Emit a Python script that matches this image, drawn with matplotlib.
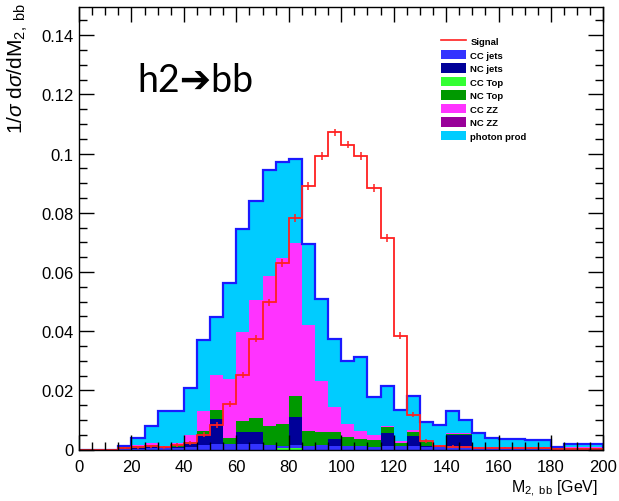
import numpy as np
import matplotlib
matplotlib.use("Agg")
import matplotlib.pyplot as plt
from matplotlib.patches import Patch
from matplotlib.lines import Line2D
from matplotlib.ticker import MultipleLocator

plt.rcParams['font.family'] = ['Liberation Sans', 'DejaVu Sans']
plt.rcParams['mathtext.fontset'] = 'custom'
plt.rcParams['mathtext.rm'] = 'Liberation Sans'
plt.rcParams['mathtext.it'] = 'Liberation Sans:italic'

# 5 GeV bins from 0 to 200
bin_edges = np.arange(0, 205, 5)

signal = [0, 0, 0, 0.0005, 0.0008, 0.0011, 0.0008, 0.0016, 0.0022, 0.0050,
          0.0083, 0.0154, 0.0251, 0.0375, 0.0497, 0.0631, 0.0782, 0.0890, 0.0991, 0.1071,
          0.1030, 0.0991, 0.0884, 0.0714, 0.0385, 0.0118, 0.0029, 0.0012, 0.0010, 0.0007,
          0.0005, 0.0005, 0.0004, 0.0004, 0.0004, 0.0004, 0.0003, 0.0003, 0.0003, 0.0003]
signal_err = [0, 0, 0, 0.0004, 0.0005, 0.0005, 0.0005, 0.0006, 0.0006, 0.0008,
              0.0009, 0.0010, 0.0011, 0.0012, 0.0012, 0.0013, 0.0013, 0.0013, 0.0013, 0.0013,
              0.0013, 0.0013, 0.0013, 0.0013, 0.0012, 0.0009, 0.0006, 0.0004, 0.0004, 0.0003,
              0.0003, 0.0003, 0.0003, 0.0003, 0.0003, 0.0003, 0.0002, 0.0002, 0.0002, 0.0002]

cc_top = [0, 0, 0, 0, 0, 0, 0, 0, 0, 0,
          0, 0, 0, 0, 0, 0.0004, 0.0004, 0, 0, 0,
          0, 0, 0, 0, 0, 0, 0, 0, 0, 0,
          0, 0, 0, 0, 0, 0, 0, 0, 0, 0]
cc_jets = [0, 0, 0, 0.0003, 0.0003, 0.0005, 0.0004, 0.0005, 0.0010, 0.0016,
           0.0019, 0.0019, 0.0019, 0.0017, 0.0016, 0.0008, 0.0010, 0.0011, 0.0016, 0.0011,
           0.0011, 0.0011, 0.0010, 0.0011, 0.0011, 0.0011, 0.0008, 0.0008, 0.0011, 0.0011,
           0.0004, 0.0004, 0.0004, 0.0004, 0.0003, 0.0003, 0.0003, 0.0003, 0.0003, 0.0003]
nc_jets = [0, 0, 0, 0.0003, 0.0001, 0.0007, 0.0003, 0.0005, 0.0009, 0.0036,
           0.0083, 0, 0.0039, 0.0041, 0, 0, 0.0097, 0, 0, 0.0025,
           0, 0, 0, 0.0045, 0, 0.0036, 0.0004, 0, 0.0038, 0.0038,
           0, 0, 0, 0, 0, 0, 0, 0, 0, 0]
nc_top = [0, 0, 0, 0.0002, 0.0007, 0.0004, 0.0002, 0.0004, 0.0008, 0.0011,
          0.0031, 0.0019, 0.0039, 0.0048, 0.0064, 0.0073, 0.0069, 0.0052, 0.0042, 0.0024,
          0.0032, 0.0026, 0.0023, 0.0021, 0.0011, 0.0013, 0.0013, 0.0005, 0.0003, 0.0003,
          0.0002, 0.0001, 0.0001, 0.0001, 0.0001, 0.0001, 0.0001, 0.0001, 0.0001, 0.0001]
cc_zz = [0, 0, 0, 0.0001, 0.0003, 0.0005, 0.0002, 0.0007, 0.0022, 0.0067,
         0.0119, 0.0201, 0.0301, 0.0399, 0.0505, 0.0561, 0.0518, 0.0356, 0.0175, 0.0083,
         0.0044, 0.0027, 0.0017, 0.0003, 0.0008, 0.0006, 0.0002, 0.0003, 0.0004, 0.0004,
         0.0004, 0.0003, 0.0003, 0.0003, 0.0003, 0.0003, 0.0002, 0.0004, 0.0004, 0.0004]
nc_zz = [0.0] * 40
photon = [0, 0, 0, 0.0002, 0.0025, 0.0057, 0.0118, 0.0108, 0.0159, 0.0239,
          0.0197, 0.0323, 0.0347, 0.0333, 0.0358, 0.0324, 0.0282, 0.0276, 0.0275, 0.0232,
          0.0213, 0.0248, 0.0127, 0.0134, 0.0102, 0.0116, 0.0066, 0.0068, 0.0074, 0.0045,
          0.0047, 0.0032, 0.0028, 0.0028, 0.0025, 0.0025, 0.0004, 0.0009, 0.0009, 0.0009]

stack_order = [
    ("CC Top", cc_top, "#33ff33"),
    ("CC jets", cc_jets, "#3333ff"),
    ("NC jets", nc_jets, "#000099"),
    ("NC Top", nc_top, "#009900"),
    ("CC ZZ", cc_zz, "#ff33ff"),
    ("NC ZZ", nc_zz, "#990099"),
    ("photon prod", photon, "#00ccff"),
]
legend_order = ["CC jets", "NC jets", "CC Top", "NC Top", "CC ZZ", "NC ZZ", "photon prod"]

fig = plt.figure(figsize=(6.19, 5.02), dpi=100)
ax = fig.add_axes([79/619, (502-450.5)/502, (603.5-79)/619, (450.5-8)/502])

bottom = np.zeros(len(signal))
colors = {}
for name, vals, col in stack_order:
    vals = np.asarray(vals, dtype=float)
    colors[name] = col
    ax.stairs(bottom + vals, bin_edges, baseline=bottom.copy(), fill=True,
              color=col, linewidth=0)
    bottom = bottom + vals

ax.stairs(bottom, bin_edges, baseline=0, fill=False, color="#1a1aff", linewidth=1.6)

ax.stairs(signal, bin_edges, baseline=0, fill=False, color="#ff2020", linewidth=1.3)
centers = 0.5 * (bin_edges[:-1] + bin_edges[1:])
ax.errorbar(centers, signal, yerr=signal_err, fmt='none', ecolor="#ff2020", elinewidth=1.1)

ax.set_xlim(0, 200)
ax.set_ylim(0, 0.1495)
ax.xaxis.set_major_locator(MultipleLocator(20))
ax.xaxis.set_minor_locator(MultipleLocator(5))
ax.yaxis.set_minor_locator(MultipleLocator(0.005))
ax.set_yticks([0, 0.02, 0.04, 0.06, 0.08, 0.1, 0.12, 0.14])
ax.set_yticklabels(["0", "0.02", "0.04", "0.06", "0.08", "0.1", "0.12", "0.14"])
ax.tick_params(which='both', direction='in', top=True, right=True, labelsize=12, colors='black')
ax.tick_params(which='major', length=11, width=1)
ax.tick_params(which='minor', length=5.5, width=1)
ax.tick_params(axis='x', pad=7)
ax.tick_params(axis='y', pad=4)
for s in ax.spines.values():
    s.set_linewidth(1.0)

fig.text(18/619, 1 - 3/502, r"1/$\sigma$ d$\sigma$/dM$_{\mathrm{2,\ bb}}$", rotation=90,
         ha='center', va='top', fontsize=15)
fig.text(598/619, 1 - 489/502, r"M$_{\mathrm{2,\ bb}}$ [GeV]", ha='right', va='center',
         fontsize=11.5)

fig.text(137/619, 1 - 92/502, "h2➔bb", ha='left', va='baseline', fontsize=27,
         family=['Lato', 'DejaVu Sans'])

handles = [Line2D([], [], color="#ff2020", lw=1.2)]
labels = ["Signal"]
for name in legend_order:
    handles.append(Patch(facecolor=colors[name], edgecolor='none'))
    labels.append(name)
ax.legend(handles, labels, loc='upper left', bbox_to_anchor=(441/619, 1 - 37/502),
          bbox_transform=fig.transFigure, frameon=False,
          prop={'weight': 'bold', 'size': 6.8},
          handlelength=2.65, handleheight=1.2, labelspacing=0.37, handletextpad=0.45,
          borderpad=0, borderaxespad=0)

fig.savefig("out.png", dpi=100)
